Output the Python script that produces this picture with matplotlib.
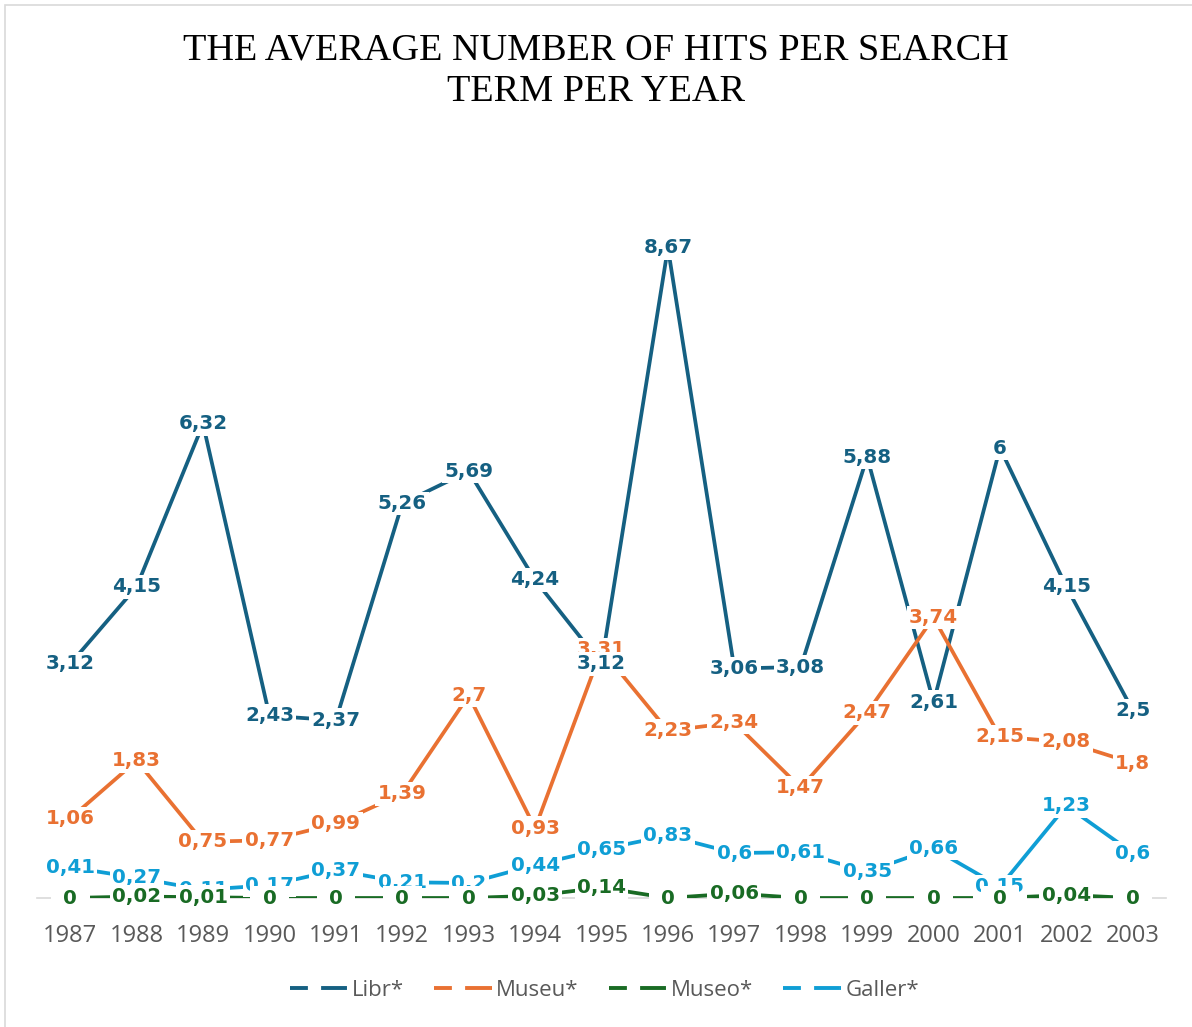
import matplotlib
matplotlib.use("Agg")
import matplotlib.pyplot as plt
from matplotlib.lines import Line2D
from matplotlib.patches import Rectangle

years = [str(y) for y in range(1987, 2004)]
libr = [3.12, 4.15, 6.32, 2.43, 2.37, 5.26, 5.69, 4.24, 3.12, 8.67, 3.06, 3.08, 5.88, 2.61, 6, 4.15, 2.5]
museu = [1.06, 1.83, 0.75, 0.77, 0.99, 1.39, 2.7, 0.93, 3.31, 2.23, 2.34, 1.47, 2.47, 3.74, 2.15, 2.08, 1.8]
museo = [0, 0.02, 0.01, 0, 0, 0, 0, 0.03, 0.14, 0, 0.06, 0, 0, 0, 0, 0.04, 0]
galler = [0.41, 0.27, 0.11, 0.17, 0.37, 0.21, 0.2, 0.44, 0.65, 0.83, 0.6, 0.61, 0.35, 0.66, 0.15, 1.23, 0.6]

series_names = ["Libr*", "Museu*", "Museo*", "Galler*"]
series_vals = [libr, museu, museo, galler]
colors = ["#156082", "#E97132", "#196B24", "#0F9ED5"]

W, H = 1192, 1027
fig = plt.figure(figsize=(W / 100, H / 100), dpi=100)
fig.patches.append(Rectangle((5 / W, -0.1), 1.2, 1 - 5 / H + 0.1, transform=fig.transFigure,
                             fill=False, edgecolor="#D9D9D9", linewidth=1.2))

ax = fig.add_axes([37 / W, 1 - 898 / H, (1166 - 37) / W, (898 - 148) / H])
x = list(range(len(years)))
for vals, c in zip(series_vals, colors):
    ax.plot(x, vals, color=c, lw=2.7, solid_capstyle="butt", zorder=2)

def fmt(v):
    s = ("%.2f" % v).rstrip("0").rstrip(".")
    s = s.replace(".", ",")
    if len(s) == 1:
        s = "\u2002" + s + "\u2002"
    return s

for i, (vals, c) in enumerate(zip(series_vals, colors)):
    for xi, v in zip(x, vals):
        ax.text(xi, v, fmt(v), ha="center", va="center", color=c, fontsize=14.3,
                fontweight="bold", family="DejaVu Sans", zorder=10 - i,
                bbox=dict(boxstyle="square,pad=0.12", fc="white", ec="none"))

ax.set_xlim(-0.5, len(years) - 0.5)
ax.set_ylim(0, 10)
for s in ["top", "right", "left"]:
    ax.spines[s].set_visible(False)
ax.spines["bottom"].set_color("#D9D9D9")
ax.spines["bottom"].set_linewidth(1.2)
ax.spines["bottom"].set_zorder(1)
ax.set_yticks([])
ax.set_xticks(x)
ax.set_xticklabels(years, fontsize=17, color="#595959", family="Open Sans")
ax.tick_params(axis="x", length=0, pad=19)

fig.text(0.5, 1 - 71 / H, "THE AVERAGE NUMBER OF HITS PER SEARCH\nTERM PER YEAR",
         ha="center", va="center", fontsize=27.5, family="Liberation Serif",
         linespacing=1.3, color="black")

handles = [Line2D([0], [0], color=c, lw=2.8, dashes=(4.6, 3.4, 6.5, 0.01)) for c in colors]
leg = fig.legend(handles, series_names, loc="center", bbox_to_anchor=(0.507, 1 - 990 / H),
                 ncol=4, frameon=False, handlelength=2.6, handletextpad=0.2,
                 columnspacing=1.35, prop={"family": "Open Sans", "size": 16})
for t in leg.get_texts():
    t.set_color("#595959")

fig.savefig("out.png", dpi=100)
